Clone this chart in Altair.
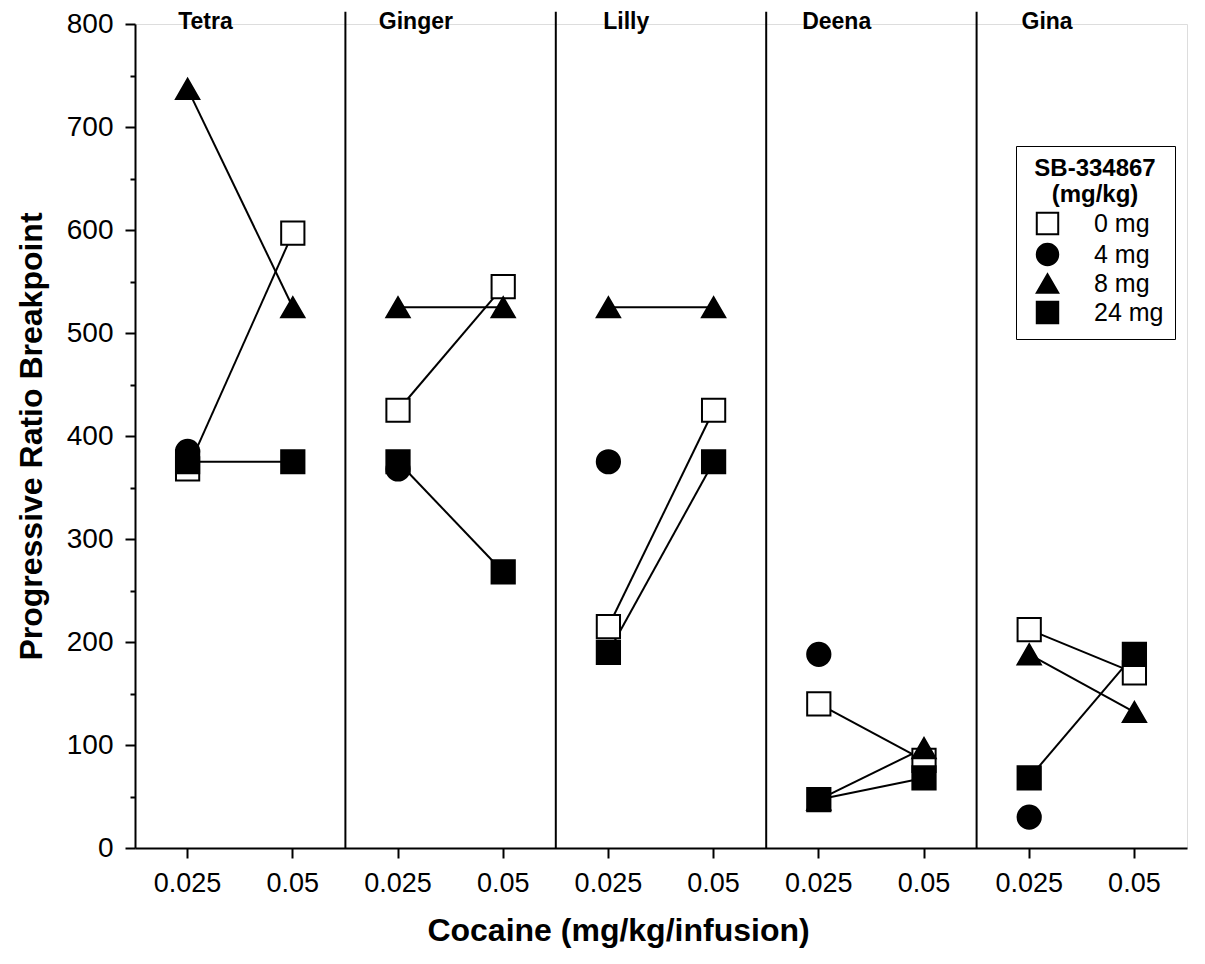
import altair as alt
import pandas as pd

subjects = ["Tetra", "Ginger", "Lilly", "Deena", "Gina"]
cocaine_doses = ["0.025", "0.05"]
sb_doses = ["0 mg", "4 mg", "8 mg", "24 mg"]

# Progressive-ratio breakpoints [at 0.025, at 0.05]; None = not plotted
bp_0mg = {"Tetra": [368, 597], "Ginger": [425, 545], "Lilly": [215, 425], "Deena": [140, 85], "Gina": [212, 170]}
bp_4mg = {"Tetra": [385, None], "Ginger": [368, None], "Lilly": [375, None], "Deena": [188, None], "Gina": [30, None]}
bp_8mg = {"Tetra": [737, 525], "Ginger": [525, 525], "Lilly": [525, 525], "Deena": [47, 97], "Gina": [188, 132]}
bp_24mg = {"Tetra": [375, 375], "Ginger": [375, 268], "Lilly": [190, 375], "Deena": [47, 68], "Gina": [68, 188]}

series = {"0 mg": bp_0mg, "4 mg": bp_4mg, "8 mg": bp_8mg, "24 mg": bp_24mg}

keys = [f"{s}|{d}" for s in subjects for d in cocaine_doses]

rows = []
for sb in sb_doses:
    for s in subjects:
        for d, v in zip(cocaine_doses, series[sb][s]):
            if v is not None:
                rows.append({"subject": s, "cocaine": d, "key": f"{s}|{d}", "sb": sb, "bp": v})
df = pd.DataFrame(rows)

sep_df = pd.DataFrame({"key": [f"{s}|{cocaine_doses[0]}" for s in subjects[1:]],
                       "y0": [0] * 4, "y1": [812] * 4})
lab_df = pd.DataFrame({"subject": subjects, "key": [f"{s}|{cocaine_doses[0]}" for s in subjects],
                       "y": [800] * 5})

FONT = "Liberation Sans"

xscale = alt.Scale(type="band", domain=keys, paddingInner=0, paddingOuter=0)
yscale = alt.Scale(domain=[0, 800], nice=False, zero=True)

x_axis = alt.Axis(
    title="Cocaine (mg/kg/infusion)",
    labelExpr="split(datum.label, '|')[1]",
    labelAngle=0, labelFontSize=27, labelPadding=12, labelColor="black", labelFont=FONT,
    tickSize=10, tickWidth=2, tickColor="black", bandPosition=0.5,
    domainWidth=2, domainColor="black",
    titleFontSize=32, titleFont=FONT, titleFontWeight="bold", titleColor="black",
    titlePadding=19, titleX=483, grid=False,
)
y_axis = alt.Axis(
    title="Progressive Ratio Breakpoint",
    values=list(range(0, 801, 50)),
    labelExpr="datum.value % 100 == 0 ? datum.label : ''",
    labelFontSize=28, labelPadding=12, labelColor="black", labelFont=FONT,
    tickSize={"condition": {"test": "datum.value % 100 != 0", "value": 5}, "value": 10},
    tickWidth=2, tickColor="black",
    domainWidth=2, domainColor="black",
    titleFontSize=32, titleFont=FONT, titleFontWeight="bold", titleColor="black",
    titlePadding=18, grid=False,
)

base_x = alt.X("key:N", scale=xscale, axis=x_axis, sort=keys)
base_y = alt.Y("bp:Q", scale=yscale, axis=y_axis)

legend = alt.Legend(
    title=["SB-334867", "(mg/kg)"], orient="none", legendX=881, legendY=122,
    titleFontSize=24, titleFontWeight="bold", titleFont=FONT, titleColor="black",
    titleAnchor="middle", titleAlign="center", titleLineHeight=26, titlePadding=4,
    labelFontSize=25, labelFont=FONT, labelColor="black", labelOffset=34,
    symbolSize=460, symbolStrokeColor="black", symbolStrokeWidth=2, symbolOffset=8,
    rowPadding=0, padding=11, strokeColor="black",
)

lines = alt.Chart(df).mark_line(color="black", strokeWidth=2).encode(
    x=base_x, y=base_y, detail=["subject:N", "sb:N"]
)

points = alt.Chart(df).mark_point(filled=True, size=540, strokeWidth=2, opacity=1).encode(
    x=base_x, y=base_y,
    shape=alt.Shape("sb:N", scale=alt.Scale(domain=sb_doses, range=["square", "circle", "triangle-up", "square"]), legend=legend),
    fill=alt.Fill("sb:N", scale=alt.Scale(domain=sb_doses, range=["white", "black", "black", "black"]), legend=legend),
    stroke=alt.Stroke("sb:N", scale=alt.Scale(domain=sb_doses, range=["black", "black", "black", "black"]), legend=legend),
)

seps = alt.Chart(sep_df).mark_rule(color="black", strokeWidth=2).encode(
    x=alt.X("key:N", bandPosition=0, scale=xscale, axis=x_axis, sort=keys),
    y=alt.Y("y0:Q", scale=yscale, axis=y_axis), y2="y1:Q",
)

labels = alt.Chart(lab_df).mark_text(font=FONT, fontSize=23, fontWeight="bold", color="black", baseline="middle", dy=-2).encode(
    x=alt.X("key:N", bandPosition=0.67, scale=xscale, axis=x_axis, sort=keys),
    y=alt.Y("y:Q", scale=yscale, axis=y_axis),
    text="subject:N",
)

chart = alt.layer(seps, lines, points, labels).properties(
    width=1052, height=824,
    autosize=alt.AutoSizeParams(type="none"),
    padding={"left": 127, "top": 16, "right": 10, "bottom": 103},
).configure_view(strokeWidth=0).configure(background="white")

chart.save("out.html", embed_options={"renderer": "svg", "actions": False})
